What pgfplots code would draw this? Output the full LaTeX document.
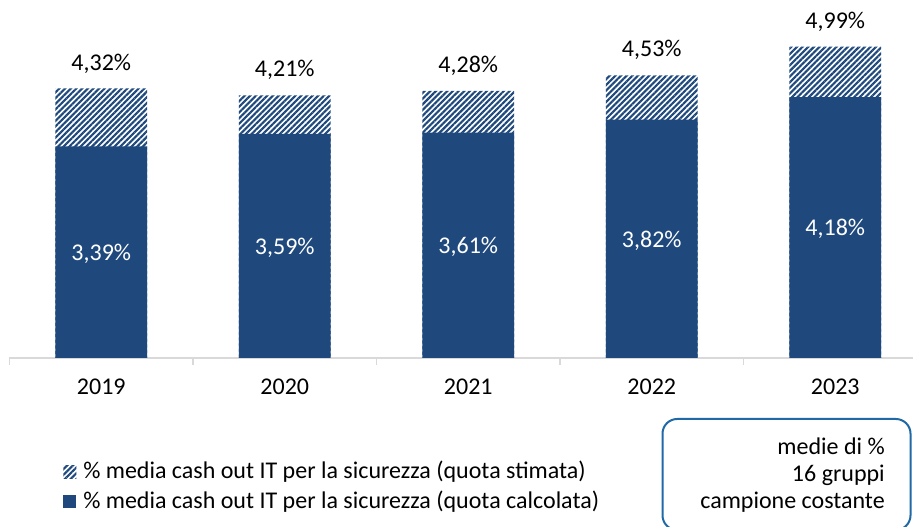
\documentclass[border=0pt]{standalone}
\usepackage{pgfplots}
\pgfplotsset{compat=1.18}
\usetikzlibrary{patterns.meta}
\usepackage{fontspec}
\setmainfont{Carlito}
\definecolor{barblue}{HTML}{1F497D}
\definecolor{boxblue}{HTML}{1F69A6}
\definecolor{axisgray}{HTML}{D9D9D9}
\begin{document}
\fontsize{18}{21.6}\selectfont
\begin{tikzpicture}[x=0.75pt,y=0.75pt]
\coordinate (A) at (9.5,169);
\begin{axis}[
  at={(A)}, anchor=south west, scale only axis,
  width=688.125pt, height=266.76pt,
  xmin=-0.5, xmax=4.5, ymin=0, ymax=5.7,
  axis x line*=bottom, axis y line=none,
  x axis line style={axisgray, line width=1pt},
  xtick={0,1,2,3,4}, xticklabels={2019,2020,2021,2022,2023},
  major tick length=0pt,
  minor xtick={-0.5,0.5,1.5,2.5,3.5,4.5}, minor tick length=5.25pt,
  tick align=outside,
  minor tick style={axisgray, line width=1pt},
  ytick=\empty,
  xticklabel style={font=\fontsize{18}{21.6}\selectfont, anchor=base, yshift=-27.75pt},
  /pgf/number format/assume math mode=true,
  clip=false,
  legend style={at={(rel axis cs:0.0583,-0.282)}, anchor=north west, draw=none, fill=none,
    font=\fontsize{18}{21.6}\selectfont, row sep=2.5pt, inner sep=0pt},
  legend cell align=left,
  legend image code/.code={\fill[#1] (0pt,-4.9pt) rectangle (9.75pt,4.9pt); \path (13pt,0pt);},
]
\addplot[ybar, bar width=0.5, bar shift=0pt, draw=none,
  pattern={Lines[angle=45,distance=3pt,line width=1.6pt]}, pattern color=barblue]
  coordinates {(0,4.32) (1,4.21) (2,4.28) (3,4.53) (4,4.99)};
\addlegendentry{\% media cash out IT per la sicurezza (quota stimata)}
\addplot[ybar, bar width=0.5, bar shift=0pt, draw=none, fill=barblue]
  coordinates {(0,3.39) (1,3.59) (2,3.61) (3,3.82) (4,4.18)};
\addlegendentry{\% media cash out IT per la sicurezza (quota calcolata)}
% total labels
\addplot[draw=none, mark=none, forget plot,
  nodes near coords={\pgfmathprintnumber[fixed,fixed zerofill,precision=2,use comma]{\pgfplotspointmeta}\%},
  nodes near coords style={anchor=base, yshift=13.8pt, inner sep=0pt, text=black, font=\fontsize{18}{21.6}\selectfont}]
  coordinates {(0,4.32) (1,4.21) (2,4.28) (3,4.53) (4,4.99)};
% bottom labels
\addplot[draw=none, mark=none, forget plot, point meta=explicit,
  nodes near coords={\pgfmathprintnumber[fixed,fixed zerofill,precision=2,use comma]{\pgfplotspointmeta}\%},
  nodes near coords style={anchor=base, yshift=-6.2pt, inner sep=0pt, text=white, font=\fontsize{18}{21.6}\selectfont}]
  coordinates {(0,1.695) [3.39] (1,1.795) [3.59] (2,1.805) [3.61] (3,1.91) [3.82] (4,2.09) [4.18]};
\end{axis}
\draw[boxblue, line width=1.5pt, rounded corners=11pt] (662.5,108) rectangle (910.5,-3);
\node[anchor=base east, inner sep=0pt] at (885,72) {medie di \%};
\node[anchor=base east, inner sep=0pt] at (885,45) {16 gruppi};
\node[anchor=base east, inner sep=0pt] at (885,18) {campione costante};
\pgfresetboundingbox
\path[use as bounding box] (0,0) rectangle (913,527);
\end{tikzpicture}
\end{document}
